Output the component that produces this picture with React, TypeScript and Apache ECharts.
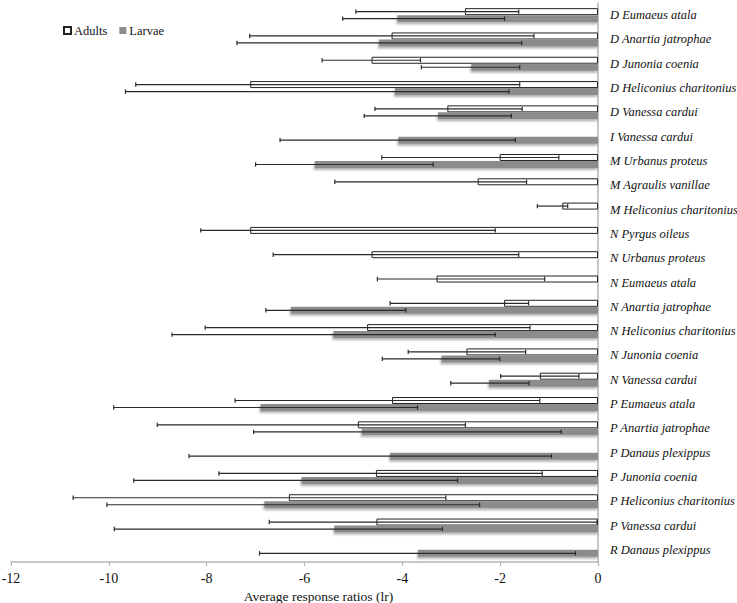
import React, { useEffect, useRef } from "react";
import * as echarts from "echarts";

const categories = [
  "D Eumaeus atala",
  "D Anartia jatrophae",
  "D Junonia coenia",
  "D Heliconius charitonius",
  "D Vanessa cardui",
  "I Vanessa cardui",
  "M Urbanus proteus",
  "M Agraulis vanillae",
  "M Heliconius charitonius",
  "N Pyrgus oileus",
  "N Urbanus proteus",
  "N Eumaeus atala",
  "N Anartia jatrophae",
  "N Heliconius charitonius",
  "N Junonia coenia",
  "N Vanessa cardui",
  "P Eumaeus atala",
  "P Anartia jatrophae",
  "P Danaus plexippus",
  "P Junonia coenia",
  "P Heliconius charitonius",
  "P Vanessa cardui",
  "R Danaus plexippus",
];

const adults = [-2.72, -4.22, -4.63, -7.11, -3.08, null, -2.01, -2.46, -0.73, -7.11, -4.63, -3.3, -1.92, -4.72, -2.69, -1.19, -4.21, -4.91, null, -4.54, -6.32, -4.53, null];
const adultsLow = [-4.95, -7.12, -5.64, -9.45, -4.56, null, -4.42, -5.38, -1.24, -8.12, -6.64, -4.51, -4.25, -8.03, -3.88, -1.99, -7.42, -9.01, null, -7.75, -10.73, -6.72, null];
const adultsHigh = [-1.62, -1.31, -3.63, -1.6, -1.55, null, -0.8, -1.46, -0.62, -2.1, -1.62, -1.09, -1.42, -1.39, -1.48, -0.39, -1.19, -2.71, null, -1.14, -3.11, -0.02, null];

const larvae = [-4.1, -4.48, -2.59, -4.15, -3.27, -4.08, -5.79, null, null, null, null, null, -6.28, -5.41, -3.2, -2.23, -6.9, -4.83, -4.25, -6.06, -6.82, -5.39, -3.68];
const larvaeLow = [-5.22, -7.38, -3.61, -9.66, -4.78, -6.5, -7.0, null, null, null, null, null, -6.79, -8.71, -4.41, -3.01, -9.9, -7.04, -8.36, -9.49, -10.04, -9.89, -6.92];
const larvaeHigh = [-1.91, -1.56, -1.6, -1.82, -1.77, -1.69, -3.37, null, null, null, null, null, -3.93, -2.1, -2.01, -1.41, -3.69, -0.75, -0.95, -2.87, -2.42, -3.18, -0.46];

const xTicks = { min: -12, max: 0, interval: 2 };

const SERIF = "Times New Roman";

function errorData(low: (number | null)[], high: (number | null)[]) {
  const out: any[] = [];
  low.forEach((l, i) => {
    const h = high[i];
    if (l !== null && h !== null) out.push([i, l, h]);
  });
  return out;
}

function makeRender(offset: number) {
  return (params: any, api: any) => {
    const i = api.value(0);
    const lo = api.coord([api.value(1), i]);
    const hi = api.coord([api.value(2), i]);
    const y = lo[1] + offset;
    const cap = 2.2;
    const style = { stroke: "#2a2a2a", lineWidth: 1.2 };
    return {
      type: "group",
      children: [
        { type: "line", shape: { x1: lo[0], y1: y, x2: hi[0], y2: y }, style },
        { type: "line", shape: { x1: lo[0], y1: y - cap, x2: lo[0], y2: y + cap }, style },
        { type: "line", shape: { x1: hi[0], y1: y - cap, x2: hi[0], y2: y + cap }, style },
      ],
    };
  };
}

export default function App() {
  const ref = useRef<HTMLDivElement>(null);
  useEffect(() => {
    if (!ref.current) return;
    const chart = echarts.init(ref.current, undefined, { renderer: "svg" });
    chart.setOption({
      animation: false,
      backgroundColor: "#ffffff",
      grid: { left: 11, right: 139, top: 3, bottom: 41, outerBoundsMode: "none", containLabel: false },
      legend: {
        left: 58,
        top: 19,
        icon: "rect",
        itemWidth: 7,
        itemHeight: 7,
        itemGap: 12,
        textStyle: { fontFamily: SERIF, fontSize: 12.5, color: "#111", padding: [0, 0, 0, -2] },
        data: ["Adults", "Larvae"],
      },
      xAxis: {
        type: "value",
        min: xTicks.min,
        max: xTicks.max,
        interval: xTicks.interval,
        position: "bottom",
        axisLine: { show: true, lineStyle: { color: "#b5b5b5", width: 1.5 } },
        axisTick: { show: true, length: 4, lineStyle: { color: "#b5b5b5", width: 1.2 } },
        splitLine: { show: false },
        axisLabel: { fontFamily: SERIF, fontSize: 14, color: "#111", margin: 9 },
        name: "Average response ratios (lr)",
        nameLocation: "middle",
        nameGap: 26,
        nameTextStyle: { fontFamily: SERIF, fontSize: 13.5, color: "#111", padding: [0, 0, 0, 28] },
      },
      yAxis: {
        type: "category",
        data: categories,
        inverse: true,
        position: "right",
        axisLine: { show: true, onZero: false, lineStyle: { color: "#b5b5b5", width: 1.5 } },
        axisTick: { show: false },
        splitLine: { show: false },
        axisLabel: { fontFamily: SERIF, fontStyle: "italic", fontSize: 12.5, color: "#111", margin: 12 },
      },
      series: [
        {
          name: "Adults",
          type: "bar",
          data: adults,
          barWidth: 7,
          barGap: "0%",
          itemStyle: { color: "#ffffff", borderColor: "#222222", borderWidth: 1 },
          z: 2,
        },
        {
          name: "Larvae",
          type: "bar",
          data: larvae,
          barWidth: 7,
          barGap: "0%",
          itemStyle: {
            color: "#8c8c8c",
            shadowColor: "rgba(0,0,0,0.3)",
            shadowBlur: 2,
            shadowOffsetX: -1,
            shadowOffsetY: 2,
          },
          z: 2,
        },
        {
          type: "custom",
          name: "AdultsErr",
          renderItem: makeRender(-3.5),
          data: errorData(adultsLow, adultsHigh),
          encode: { x: [1, 2], y: 0 },
          z: 5,
          silent: true,
        },
        {
          type: "custom",
          name: "LarvaeErr",
          renderItem: makeRender(3.5),
          data: errorData(larvaeLow, larvaeHigh),
          encode: { x: [1, 2], y: 0 },
          z: 5,
          silent: true,
        },
      ],
    });
    return () => chart.dispose();
  }, []);
  return (
    <div
      ref={ref}
      style={{ position: "absolute", left: 0, top: 0, width: 737, height: 603 }}
    />
  );
}
